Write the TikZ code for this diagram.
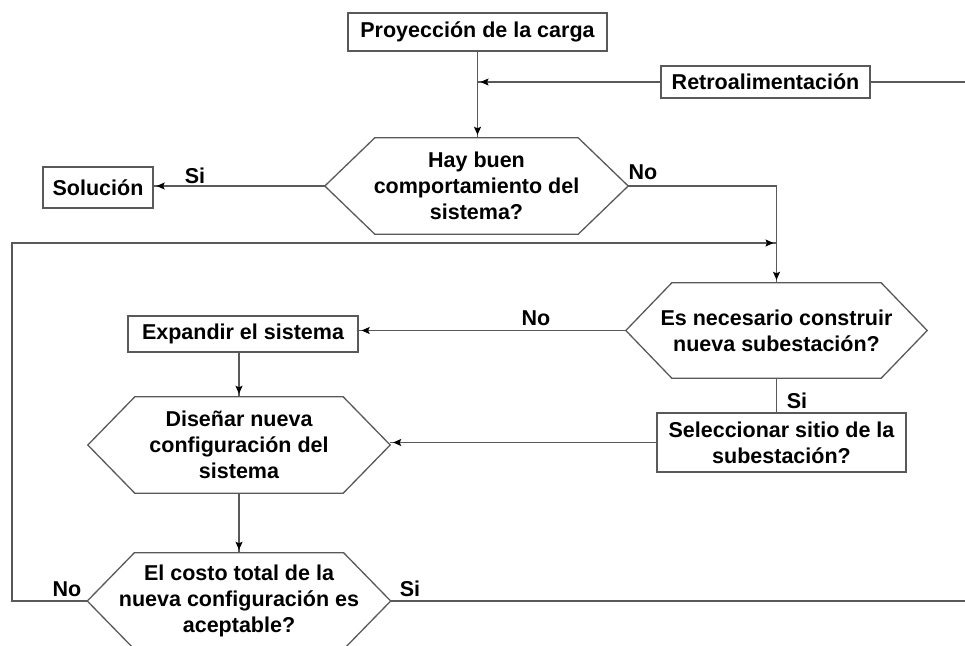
\documentclass[tikz,border=0pt]{standalone}
\usepackage{fontspec}
\setmainfont{Liberation Sans}
\usetikzlibrary{arrows.meta,calc}
\definecolor{linec}{gray}{0.35}
\definecolor{boxc}{gray}{0.35}
\newcommand\hexdraw[2]{\draw[boxline] (#1.west) -- ([xshift=#2pt]#1.north west) -- ([xshift=-#2pt]#1.north east) -- (#1.east) -- ([xshift=-#2pt]#1.south east) -- ([xshift=#2pt]#1.south west) -- cycle;}
\begin{document}
\begin{tikzpicture}[x=1pt,y=-1pt,
  txt/.style={font=\fontsize{21.5}{26}\selectfont\bfseries, text=black},
  boxline/.style={draw=boxc, line width=1.3pt},
  boxn/.style={txt, boxline, inner sep=0pt, align=center},
  hexn/.style={txt, inner sep=0pt, align=center},
  conn/.style={draw=linec, line width=1.2pt},
  flow/.style={conn, postaction={draw=linec, shorten >=3pt, -{Stealth[length=8pt,width=7pt,inset=1.5pt,color=black]}}},
  lab/.style={txt, inner sep=0pt}
]
\useasboundingbox (0,0) rectangle (965,645);

% boxes
\node[boxn, minimum width=259pt, minimum height=38pt] (proy) at (477.5,32) {Proyección de la carga};
\node[boxn, minimum width=209pt, minimum height=32pt] (retro) at (765.5,82) {Retroalimentación};
\node[boxn, minimum width=110pt, minimum height=41pt] (sol) at (98,187.5) {Solución};
\node[boxn, minimum width=230pt, minimum height=36pt] (exp) at (243,334) {Expandir el sistema};
\node[boxn, minimum width=249pt, minimum height=59pt] (sel) at (781.5,442.5) {Seleccionar sitio de la\\subestación?};

% hexagons
\node[hexn, minimum width=303pt, minimum height=96pt] (hay) at (476.5,186) {Hay buen\\comportamiento del\\sistema?};
\hexdraw{hay}{50}
\node[hexn, minimum width=301pt, minimum height=95pt] (esn) at (776.5,330.5) {Es necesario construir\\nueva subestación?};
\hexdraw{esn}{46}
\node[hexn, minimum width=302pt, minimum height=96pt] (dis) at (239,445) {Diseñar nueva\\configuración del\\sistema};
\hexdraw{dis}{47}
\node[hexn, minimum width=303pt, minimum height=96pt] (cos) at (239,601) {El costo total de la\\nueva configuración es\\aceptable?};
\hexdraw{cos}{47}

% free ends
\coordinate (jn) at (proy.south |- retro.west);
\coordinate (rend) at (965,82);
\coordinate (lp) at (12,243);
\coordinate (send) at (965,601);

% connectors
\draw[flow] (proy.south) -- (proy.south |- hay.north);
\draw[flow] (retro.west) -- (jn);
\draw[conn] (retro.east) -- (rend);
\draw[flow] (hay.west) -- (hay.west -| sol.east);
\draw[flow] (hay.east) -- (hay.east -| esn.north) -- (esn.north);
\draw[flow] (cos.west) -- (cos.west -| lp) -- (lp) -- (lp -| esn.north);
\draw[flow] (esn.west) -- (esn.west -| exp.east);
\draw[flow] (dis.north |- exp.south) -- (dis.north);
\draw[conn] (esn.south) -- (esn.south |- sel.north);
\draw[flow] (sel.west) -- (sel.west -| dis.east);
\draw[flow] (dis.south) -- (cos.north);
\draw[conn] (cos.east) -- (send);

% labels
\node[lab] (l1) at (195,176) {Si};
\node[lab] (l2) at (643,172) {No};
\node[lab] (l3) at (536,318) {No};
\node[lab] (l4) at (797,401) {Si};
\node[lab] (l5) at (67,589) {No};
\node[lab] (l6) at (410,589) {Si};
\end{tikzpicture}
\end{document}
